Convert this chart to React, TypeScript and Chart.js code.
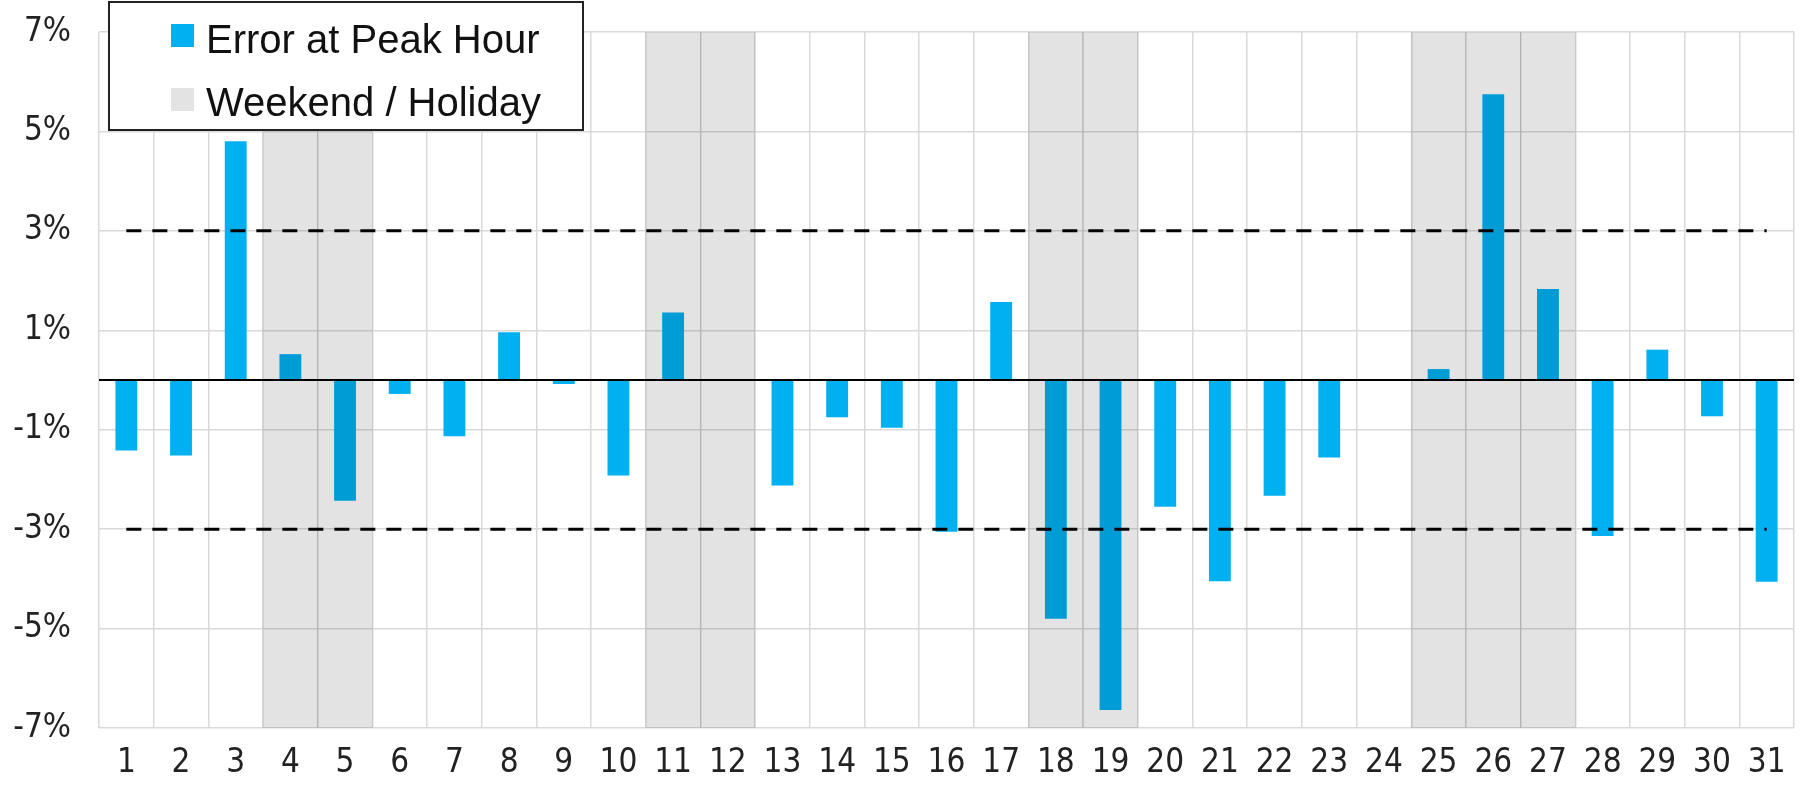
import React, { useEffect, useRef } from "react";
import { Chart, registerables } from "chart.js";

Chart.register(...registerables);

const days: string[] = Array.from({ length: 31 }, (_, i) => String(i + 1));
const errorAtPeak: (number | null)[] = [
  -1.42, -1.52, 4.8, 0.52, -2.43, -0.28, -1.13, 0.96, -0.08, -1.92,
  1.36, null, -2.12, -0.75, -0.96, -3.05, 1.57, -4.8, -6.64, -2.55,
  -4.05, -2.33, -1.56, null, 0.22, 5.75, 1.83, -3.14, 0.61, -0.73, -4.06,
];
const weekendDays: number[] = [4, 5, 11, 12, 18, 19, 25, 26, 27];
const upperLimit: number[] = days.map(() => 3);
const lowerLimit: number[] = days.map(() => -3);
const yTickValues: number[] = [-7, -5, -3, -1, 1, 3, 5, 7];

const BLUE = "#00B0F0";
const SHADE = "rgba(0,0,0,0.11)";
const GRID = "#D9D9D9";
const AXIS_FONT = "'Liberation Sans Narrow', 'Arial Narrow', 'DejaVu Sans Condensed', 'Liberation Sans', Arial, sans-serif";
const LEGEND_FONT = "'Liberation Sans', Arial, sans-serif";

const boxLegend = {
  id: "boxLegend",
  afterDraw(chart: any) {
    const ctx = chart.ctx;
    const ds = chart.data.datasets;
    ctx.save();
    const x = 109, y = 2, w = 474, h = 128;
    ctx.fillStyle = "#ffffff";
    ctx.fillRect(x, y, w, h);
    ctx.lineWidth = 2;
    ctx.strokeStyle = "#222";
    ctx.strokeRect(x, y, w, h);
    const items = [
      { label: ds[0].label, color: BLUE, sy: 24, ty: 53 },
      { label: ds[1].label, color: "#E3E3E3", sy: 88, ty: 116 },
    ];
    ctx.font = `40px ${LEGEND_FONT}`;
    ctx.textBaseline = "alphabetic";
    ctx.textAlign = "left";
    for (const it of items) {
      ctx.fillStyle = it.color;
      ctx.fillRect(171, it.sy, 23, 23);
      ctx.fillStyle = "#111";
      ctx.fillText(it.label, 206, it.ty);
    }
    ctx.restore();
  },
};

export default function App() {
  const ref = useRef<HTMLCanvasElement | null>(null);
  useEffect(() => {
    if (!ref.current) return;
    const chart = new Chart(ref.current, {
      type: "bar",
      data: {
        labels: days,
        datasets: [
          {
            type: "bar",
            label: "Error at Peak Hour",
            data: errorAtPeak,
            backgroundColor: BLUE,
            barPercentage: 0.4,
            categoryPercentage: 1,
            grouped: false,
            order: 2,
            yAxisID: "y",
          } as any,
          {
            type: "bar",
            label: "Weekend / Holiday",
            data: days.map((d) => (weekendDays.includes(Number(d)) ? 1 : null)),
            backgroundColor: SHADE,
            barPercentage: 1,
            categoryPercentage: 1,
            grouped: false,
            order: 1,
            yAxisID: "y2",
          } as any,
          {
            type: "line",
            label: "Upper",
            data: upperLimit,
            borderColor: "#000",
            borderWidth: 3,
            borderDash: [15, 11],
            pointRadius: 0,
            fill: false,
            order: 0,
            yAxisID: "y",
          } as any,
          {
            type: "line",
            label: "Lower",
            data: lowerLimit,
            borderColor: "#000",
            borderWidth: 3,
            borderDash: [15, 11],
            pointRadius: 0,
            fill: false,
            order: 0,
            yAxisID: "y",
          } as any,
        ],
      },
      options: {
        animation: false,
        responsive: true,
        maintainAspectRatio: false,
        layout: { padding: { top: 32, right: 11, left: 0, bottom: 0 } },
        plugins: {
          legend: { display: false },
          tooltip: { enabled: false },
          title: { display: false },
        },
        scales: {
          x: {
            offset: true,
            grid: { display: true, offset: true, color: GRID, lineWidth: 1.5, drawTicks: false },
            border: { display: false },
            ticks: {
              autoSkip: false,
              maxRotation: 0,
              padding: 16,
              color: "#222",
              font: { family: AXIS_FONT, size: 33 },
            },
            afterFit: (s: any) => { s.height = 60; s.paddingLeft = 0; s.paddingRight = 0; },
          },
          y: {
            min: -7,
            max: 7,
            grid: {
              drawTicks: false,
              color: (c: any) => {
                const v = c.tick?.value;
                if (v === 0) return "#000";
                return yTickValues.includes(v) ? GRID : "rgba(0,0,0,0)";
              },
              lineWidth: (c: any) => (c.tick?.value === 0 ? 2 : 1.5),
            },
            border: { display: false },
            ticks: {
              stepSize: 1,
              padding: 28,
              color: "#222",
              font: { family: AXIS_FONT, size: 33 },
              callback: (v: any) => (yTickValues.includes(Number(v)) ? `${v}%` : ""),
            },
            afterFit: (s: any) => { s.width = 99; s.paddingTop = 0; s.paddingBottom = 0; },
          },
          y2: {
            display: false,
            min: 0,
            max: 1,
          },
        },
      },
      plugins: [boxLegend],
    });
    return () => chart.destroy();
  }, []);
  return (
    <div style={{ position: "fixed", left: 0, top: 0, width: 1805, height: 788, background: "#fff" }}>
      <canvas ref={ref} style={{ width: "100%", height: "100%" }} />
    </div>
  );
}
